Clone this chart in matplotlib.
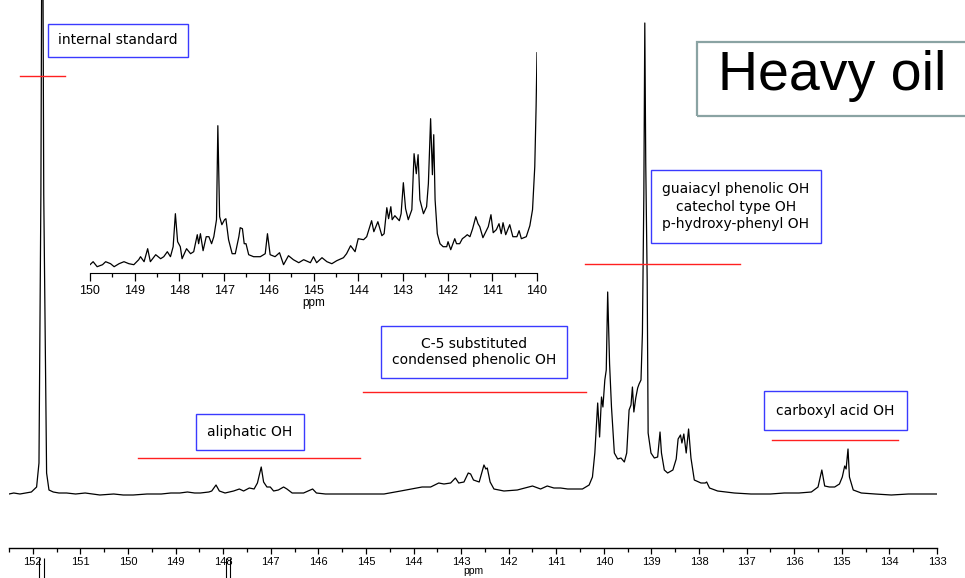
import numpy as np
import matplotlib
matplotlib.use('Agg')
import matplotlib.pyplot as plt
from matplotlib.patches import Rectangle

# 31P NMR spectrum of heavy oil (ppm, relative intensity)
main_ppm = [152.50, 152.40, 152.27, 152.15, 152.03, 151.92, 151.87, 151.83, 151.80, 151.77,
            151.71, 151.66, 151.57, 151.45, 151.29, 151.10, 150.90, 150.59, 150.30, 150.10,
            149.89, 149.60, 149.30, 149.10, 148.91, 148.75, 148.60, 148.48, 148.30, 148.24,
            148.15, 148.08, 147.96, 147.78, 147.66, 147.57, 147.45, 147.35, 147.28, 147.20,
            147.15, 147.08, 147.01, 146.94, 146.84, 146.73, 146.66, 146.55, 146.31, 146.12,
            146.04, 145.85, 145.68, 145.30, 144.97, 144.62, 144.27, 144.05, 143.82, 143.64,
            143.47, 143.36, 143.22, 143.12, 143.05, 142.94, 142.85, 142.80, 142.74, 142.62,
            142.52, 142.48, 142.45, 142.39, 142.31, 142.10, 141.82, 141.50, 141.33, 141.19,
            141.05, 140.91, 140.76, 140.59, 140.45, 140.31, 140.24, 140.19, 140.13, 140.09,
            140.05, 140.02, 139.98, 139.95, 139.92, 139.88, 139.84, 139.78, 139.71, 139.64,
            139.57, 139.52, 139.47, 139.43, 139.40, 139.37, 139.33, 139.29, 139.26, 139.22,
            139.19, 139.16, 139.14, 139.12, 139.09, 139.07, 139.01, 138.94, 138.87, 138.82,
            138.79, 138.73, 138.66, 138.55, 138.48, 138.44, 138.39, 138.36, 138.32, 138.27,
            138.22, 138.17, 138.10, 137.96, 137.87, 137.84, 137.78, 137.61, 137.26, 136.91,
            136.50, 136.21, 135.90, 135.64, 135.50, 135.42, 135.36, 135.26, 135.15, 135.05,
            134.99, 134.94, 134.91, 134.87, 134.84, 134.76, 134.59, 134.30, 133.96, 133.60,
            133.29, 133.00]
main_int = [0, 1, 0, 1, 2, 7, 31, 300, 700, 300,
            21, 4, 2, 1, 1, 0, 1, -1, 0, -1,
            -1, 0, 0, 1, 1, 2, 1, 1, 2, 3,
            9, 3, 1, 3, 5, 3, 6, 5, 11, 27,
            12, 7, 7, 3, 4, 7, 5, 1, 1, 5,
            1, 0, 0, 0, 0, 0, 3, 5, 7, 7,
            11, 10, 11, 16, 11, 12, 21, 20, 14, 12,
            29, 25, 26, 12, 5, 3, 4, 8, 5, 8,
            6, 6, 5, 5, 5, 9, 17, 41, 91, 57,
            97, 87, 114, 124, 202, 130, 87, 41, 35, 36,
            32, 41, 84, 89, 107, 82, 96, 106, 110, 114,
            161, 300, 471, 330, 214, 61, 41, 36, 37, 62,
            41, 24, 21, 24, 35, 55, 59, 51, 60, 41,
            65, 36, 14, 11, 11, 12, 6, 3, 1, 0,
            0, 1, 1, 2, 7, 24, 8, 7, 7, 10,
            17, 28, 25, 45, 17, 4, 1, 0, -1, 0,
            0, 0]

# expanded region 150-140 ppm (inset)
inset_ppm = [150.00, 149.93, 149.84, 149.72, 149.65, 149.54, 149.46, 149.35, 149.24, 149.13,
             149.02, 148.91, 148.87, 148.79, 148.71, 148.65, 148.53, 148.42, 148.35, 148.27,
             148.20, 148.14, 148.09, 148.04, 147.98, 147.94, 147.84, 147.75, 147.68, 147.60,
             147.57, 147.53, 147.47, 147.40, 147.34, 147.28, 147.23, 147.17, 147.14, 147.10,
             147.05, 146.99, 146.96, 146.90, 146.82, 146.75, 146.67, 146.64, 146.59, 146.55,
             146.51, 146.45, 146.34, 146.19, 146.08, 146.03, 145.97, 145.86, 145.76, 145.67,
             145.56, 145.45, 145.33, 145.22, 145.07, 145.00, 144.93, 144.81, 144.70, 144.59,
             144.48, 144.33, 144.26, 144.17, 144.07, 144.00, 143.88, 143.81, 143.70, 143.65,
             143.56, 143.47, 143.42, 143.36, 143.32, 143.27, 143.24, 143.18, 143.08, 143.04,
             142.99, 142.94, 142.88, 142.80, 142.75, 142.70, 142.66, 142.62, 142.54, 142.47,
             142.43, 142.38, 142.34, 142.31, 142.28, 142.23, 142.17, 142.10, 142.02, 141.99,
             141.93, 141.84, 141.80, 141.73, 141.67, 141.61, 141.56, 141.50, 141.44, 141.37,
             141.32, 141.28, 141.21, 141.09, 141.03, 140.98, 140.91, 140.85, 140.80, 140.76,
             140.70, 140.61, 140.54, 140.45, 140.40, 140.35, 140.24, 140.16, 140.10, 140.05,
             140.02, 140.00]
inset_int = [2, 5, 0, 2, 5, 3, 0, 3, 5, 3,
             2, 7, 10, 5, 18, 5, 12, 8, 10, 15,
             10, 20, 53, 25, 20, 8, 18, 13, 15, 32,
             23, 33, 16, 30, 30, 23, 30, 47, 141, 50,
             42, 47, 48, 27, 13, 13, 30, 39, 38, 23,
             23, 12, 10, 10, 13, 33, 12, 10, 14, 2,
             11, 7, 4, 7, 4, 10, 4, 9, 5, 3,
             6, 9, 13, 21, 15, 28, 27, 30, 46, 35,
             45, 31, 33, 59, 48, 60, 47, 51, 46, 53,
             84, 58, 47, 57, 113, 93, 112, 67, 53, 60,
             83, 148, 92, 132, 67, 33, 23, 20, 20, 25,
             17, 28, 23, 23, 28, 30, 32, 30, 38, 50,
             43, 40, 29, 40, 52, 34, 37, 43, 33, 44,
             32, 42, 30, 30, 36, 28, 30, 41, 57, 100,
             160, 214]

# assigned chemical shift regions (ppm from, ppm to)
region_names = ['internal standard', 'aliphatic OH', 'C-5 substituted', 'guaiacyl phenolic OH', 'carboxyl acid OH']
region_from = [152.27, 149.79, 145.07, 140.40, 136.46]
region_to = [151.33, 145.12, 140.38, 137.14, 133.81]

# integration marks below the axis
integral_marks = [151.87, 151.77, 147.94, 147.85]

W, H = 965, 578
fig = plt.figure(figsize=(W / 100, H / 100), dpi=100)
tick_font = ['Liberation Sans', 'DejaVu Sans']


def fx(px):
    return px / W


def fy(py):
    return 1 - py / H


# main spectrum
ax = fig.add_axes([fx(9), fy(548), fx(937) - fx(9), fy(0) - fy(548)])
ax.plot(main_ppm, main_int, color='black', lw=0.9)
ax.set_xlim(152.5, 133)
ax.set_ylim(-54, 494)
for s in ['left', 'right', 'top']:
    ax.spines[s].set_visible(False)
ax.spines['bottom'].set_linewidth(1.0)
ax.set_yticks([])
ax.set_xticks(np.arange(133, 153, 1))
ax.set_xticks(np.arange(133, 152.6, 0.5), minor=True)
ax.tick_params(axis='x', which='major', direction='out', length=4.5, width=0.9, pad=2,
               labelsize=8)
ax.tick_params(axis='x', which='minor', direction='out', length=3, width=0.9)
ax.set_xticklabels([str(v) for v in range(133, 153)], family=tick_font)
ax.set_xlabel('ppm', fontsize=7.5, family=tick_font, labelpad=-1)
ax.patch.set_alpha(0)

# red lines over the assigned regions
levels = [418, 36, 102, 230, 54]
for a, b, lev in zip(region_from, region_to, levels):
    ax.plot([a, b], [lev, lev], color='#ff2020', lw=1.0)

ax.vlines(integral_marks, -64, -100, color='black', lw=0.8, clip_on=False)

# inset
axi = fig.add_axes([fx(90), fy(273), fx(537) - fx(90), fy(50) - fy(273)])
axi.plot(inset_ppm, inset_int, color='black', lw=0.9)
axi.set_xlim(150, 140)
axi.set_ylim(-6.3, 216.7)
for s in ['left', 'right', 'top']:
    axi.spines[s].set_visible(False)
axi.set_yticks([])
axi.set_xticks(np.arange(140, 151, 1))
axi.set_xticks(np.arange(140, 150.1, 0.5), minor=True)
axi.tick_params(axis='x', which='major', direction='out', length=5.5, width=0.9, pad=3,
                labelsize=9)
axi.tick_params(axis='x', which='minor', direction='out', length=3, width=0.9)
axi.set_xticklabels([str(v) for v in range(140, 151)], family=tick_font)
axi.set_xlabel('ppm', fontsize=8.5, family=tick_font, labelpad=0)
axi.patch.set_alpha(0)

# labelled boxes
box = dict(boxstyle='square,pad=0.75', fc='white', ec='#3a3aff', lw=1.0)
fig.text(fx(118), fy(40.5), region_names[0], ha='center', va='center', fontsize=10,
         bbox=dict(box, boxstyle='square,pad=0.7'))
fig.text(fx(250), fy(432), region_names[1], ha='center', va='center', fontsize=10,
         bbox=dict(box, boxstyle='square,pad=0.8'))
fig.text(fx(474), fy(352), 'C-5 substituted\ncondensed phenolic OH', ha='center', va='center',
         fontsize=10, linespacing=1.25, multialignment='center', bbox=dict(box, boxstyle='square,pad=0.75'))
fig.text(fx(736), fy(206.5), 'guaiacyl phenolic OH\ncatechol type OH\np-hydroxy-phenyl OH',
         ha='center', va='center', fontsize=10, linespacing=1.3, multialignment='center',
         bbox=dict(box, boxstyle='square,pad=0.85'))
fig.text(fx(835.5), fy(410.5), region_names[4], ha='center', va='center', fontsize=10,
         bbox=dict(box, boxstyle='square,pad=0.9'))

# title box
fig.patches.append(Rectangle((fx(697), fy(116)), fx(975) - fx(697), fy(42) - fy(116),
                             transform=fig.transFigure, fill=False, ec='#8aa3a3', lw=1.6))
fig.text(fx(832), fy(76), 'Heavy oil', ha='center', va='center', fontsize=40,
         family=['Liberation Sans', 'DejaVu Sans'])

fig.savefig('out.png', dpi=100)
